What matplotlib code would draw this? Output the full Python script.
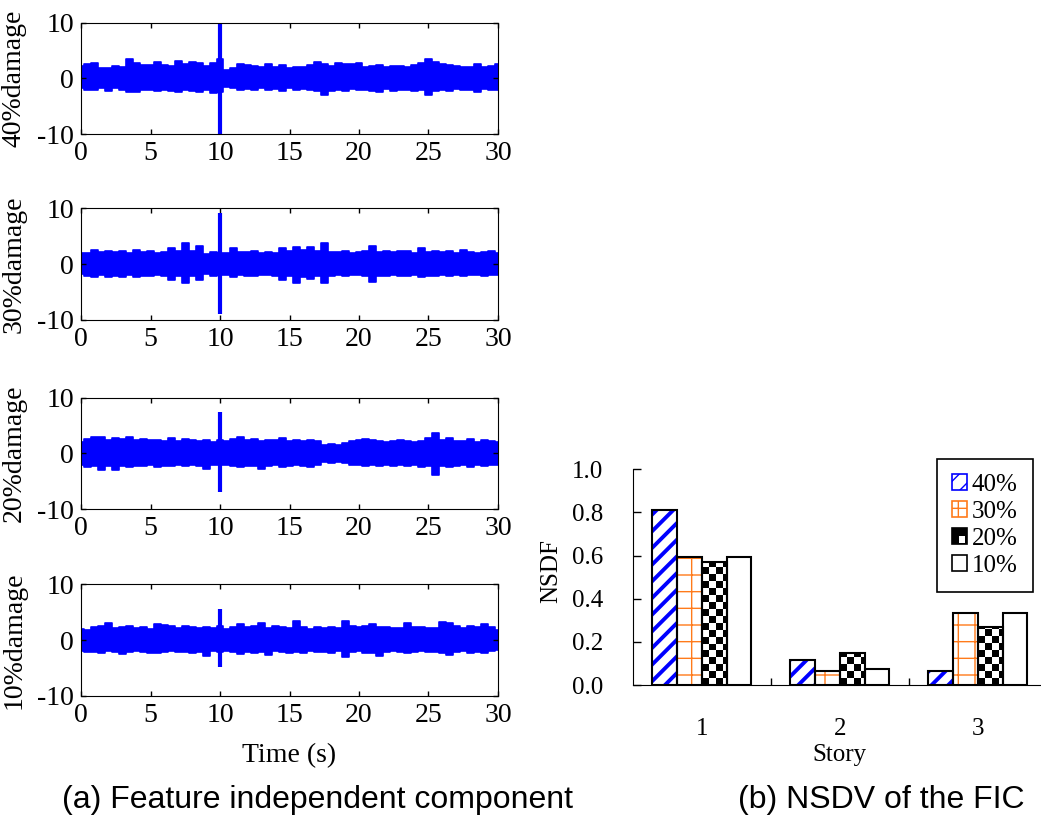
import matplotlib.pyplot as plt
import numpy as np
from matplotlib.patches import Patch, Rectangle
from matplotlib.legend_handler import HandlerPatch
from matplotlib.ticker import FormatStrFormatter

plt.rcParams['font.family'] = ['Liberation Serif', 'DejaVu Serif']
plt.rcParams['axes.unicode_minus'] = False

# envelope of the feature independent component, read every 0.5 s
time = np.arange(0, 30.01, 0.5)

upper_40 = [2.3, 2.6, 2.8, 1.8, 1.9, 2.2, 2.1, 3.4, 2.8, 2.4,
            2.5, 2.9, 2.4, 2.2, 3.1, 2.6, 3.0, 2.8, 2.3, 2.8,
            3.4, 1.6, 1.8, 2.6, 2.5, 2.2, 2.0, 2.6, 2.0, 2.4,
            1.8, 2.0, 2.0, 2.5, 3.0, 2.6, 2.2, 2.8, 2.6, 2.6,
            2.7, 2.0, 2.2, 2.4, 2.0, 2.2, 2.3, 2.1, 2.4, 2.7,
            3.4, 2.9, 2.6, 2.5, 2.2, 2.1, 2.0, 2.6, 2.0, 2.2,
            2.6]
lower_40 = [-1.8, -2.0, -2.1, -1.7, -2.2, -1.8, -2.0, -2.5, -2.4, -2.0,
            -2.1, -2.3, -2.0, -2.2, -2.4, -2.0, -2.2, -2.5, -2.0, -2.6,
            -2.4, -1.6, -1.8, -2.0, -1.9, -2.1, -1.8, -2.0, -1.9, -2.2,
            -1.8, -2.0, -1.9, -2.1, -2.2, -3.0, -2.2, -2.0, -2.3, -1.9,
            -2.1, -2.0, -2.2, -2.4, -1.9, -2.2, -2.1, -2.0, -2.2, -2.1,
            -2.9, -2.2, -2.1, -2.3, -1.9, -2.0, -2.1, -2.5, -1.9, -2.1,
            -2.0]

upper_30 = [2.0, 2.0, 2.6, 2.2, 2.4, 2.1, 2.4, 2.0, 2.5, 2.2,
            2.4, 2.0, 2.2, 2.8, 2.4, 3.8, 2.3, 3.2, 1.8, 2.2,
            2.0, 2.0, 2.8, 2.2, 2.1, 2.3, 2.0, 2.2, 2.0, 2.8,
            2.3, 3.1, 2.5, 3.0, 2.4, 3.8, 2.2, 2.1, 2.4, 2.0,
            2.2, 2.3, 3.2, 2.2, 2.4, 2.1, 2.3, 2.4, 2.0, 2.8,
            2.2, 2.4, 2.1, 2.3, 2.0, 2.6, 2.1, 2.0, 2.2, 2.4,
            2.0]
lower_30 = [-1.8, -2.2, -2.3, -2.0, -2.4, -2.1, -2.3, -2.0, -2.3, -2.1,
            -2.2, -2.0, -2.2, -2.8, -2.2, -3.4, -2.2, -2.9, -1.8, -2.1,
            -2.0, -2.0, -2.4, -2.0, -2.1, -2.2, -2.0, -1.9, -2.1, -2.8,
            -2.2, -3.4, -2.3, -2.6, -2.2, -3.4, -2.1, -2.0, -2.1, -1.9,
            -2.0, -2.1, -3.2, -2.1, -2.2, -2.0, -2.2, -2.1, -2.0, -2.3,
            -2.1, -2.2, -2.0, -2.2, -1.9, -2.2, -2.0, -1.9, -2.1, -2.0,
            -1.9]

upper_20 = [2.0, 2.6, 2.9, 2.9, 2.5, 2.7, 2.6, 2.9, 2.4, 2.6,
            2.4, 2.5, 2.3, 2.7, 2.2, 2.6, 2.4, 2.3, 2.5, 2.0,
            2.4, 2.2, 2.6, 2.9, 2.5, 2.6, 2.3, 2.5, 2.4, 2.8,
            2.3, 2.4, 2.2, 2.5, 2.2, 1.6, 1.7, 1.6, 1.8, 2.2,
            2.5, 2.6, 2.4, 2.3, 2.0, 2.2, 2.5, 2.2, 2.0, 2.3,
            2.8, 3.6, 2.4, 2.8, 2.2, 2.3, 2.6, 2.0, 2.5, 2.2,
            2.1]
lower_20 = [-2.0, -2.4, -2.2, -2.9, -2.3, -3.0, -2.2, -2.4, -2.2, -2.3,
            -2.1, -2.4, -2.2, -2.3, -2.0, -2.2, -2.1, -2.2, -2.7, -2.0,
            -2.1, -2.0, -2.2, -2.4, -2.2, -2.3, -2.8, -2.3, -2.1, -2.4,
            -2.2, -2.0, -2.3, -2.4, -2.0, -1.6, -1.7, -1.6, -1.7, -2.0,
            -2.1, -2.2, -2.0, -2.3, -2.1, -2.2, -2.0, -2.3, -2.1, -2.4,
            -2.2, -3.8, -2.3, -2.5, -2.2, -2.1, -2.4, -2.0, -2.2, -2.1,
            -2.0]

upper_10 = [2.0, 1.8, 2.4, 2.6, 3.1, 2.2, 2.4, 2.6, 2.2, 2.4,
            2.0, 2.8, 2.7, 2.5, 2.2, 2.6, 2.3, 2.1, 2.4, 2.2,
            2.5, 2.0, 2.4, 2.9, 2.3, 2.5, 3.0, 2.2, 2.6, 2.3,
            2.1, 3.5, 2.3, 2.0, 2.4, 2.2, 2.3, 2.1, 3.5, 2.5,
            2.4, 2.6, 2.9, 2.3, 2.4, 2.2, 2.1, 3.0, 2.3, 2.4,
            2.2, 2.1, 3.3, 3.0, 2.5, 2.2, 2.6, 2.3, 2.9, 2.4,
            1.8]
lower_10 = [-2.0, -2.2, -2.1, -2.3, -2.0, -2.2, -2.5, -2.1, -2.0, -2.2,
            -2.3, -2.4, -2.2, -2.0, -2.1, -2.2, -2.4, -2.2, -2.8, -2.0,
            -2.1, -2.0, -2.2, -2.5, -2.1, -2.3, -2.2, -2.6, -2.0, -2.2,
            -2.4, -2.1, -2.3, -2.0, -2.2, -2.1, -2.3, -2.0, -3.1, -2.2,
            -2.0, -2.4, -2.3, -2.8, -2.1, -2.0, -2.2, -2.3, -2.1, -2.0,
            -2.2, -2.1, -2.4, -2.6, -2.2, -2.0, -2.3, -2.1, -2.4, -2.0,
            -1.8]

damage_labels = ['40%damage', '30%damage', '20%damage', '10%damage']
spike_time = 10
spike_hi = [10.5, 9.2, 7.5, 5.6]
spike_lo = [-10.5, -9.0, -7.0, -4.8]

# NSDF bar chart
stories = [1, 2, 3]
levels = ['40%', '30%', '20%', '10%']
nsdf_40 = [0.81, 0.116, 0.065]
nsdf_30 = [0.595, 0.065, 0.334]
nsdf_20 = [0.569, 0.147, 0.270]
nsdf_10 = [0.595, 0.073, 0.334]

BLUE = '#0000ff'
ORANGE = '#ff7a1a'


class CheckerHandler(HandlerPatch):
    def create_artists(self, legend, orig_handle, xdescent, ydescent,
                       width, height, fontsize, trans):
        outer = Rectangle((-xdescent, -ydescent), width, height,
                          facecolor='black', edgecolor='black', lw=1.2,
                          transform=trans)
        inner = Rectangle((-xdescent + width / 2, -ydescent + 0.1 * height),
                          width * 0.4, height * 0.4, facecolor='white',
                          edgecolor='none', transform=trans)
        return [outer, inner]


fig = plt.figure(figsize=(10.41, 8.15), dpi=100)
W, H = 1041, 815

# ---- (a) left panels
panel_tops = [22.7, 208.3, 397.7, 584.3]
panel_h = 111.5
series = [(upper_40, lower_40), (upper_30, lower_30),
          (upper_20, lower_20), (upper_10, lower_10)]
axes_left = []
for i, (up, lo) in enumerate(series):
    bottom = 1 - (panel_tops[i] + panel_h) / H
    ax = fig.add_axes([81 / W, bottom, 417 / W, panel_h / H])
    ax.fill_between(time, lo, up, step='mid', color=BLUE, lw=1.2)
    ax.vlines(spike_time, spike_lo[i], spike_hi[i], color=BLUE, lw=3)
    ax.set_xlim(0, 30)
    ax.set_ylim(-10, 10)
    ax.set_xticks(range(0, 31, 5))
    ax.set_yticks([-10, 0, 10])
    ax.tick_params(direction='in', top=True, right=True, length=3.5,
                   width=1, labelsize=20)
    ax.tick_params(axis='y', pad=5)
    ax.tick_params(axis='x', pad=5)
    ax.set_ylabel(damage_labels[i], fontsize=20, labelpad=0)
    ax.yaxis.set_label_coords(-0.13, 0.5)
    axes_left.append(ax)

axes_left[-1].set_xlabel('Time (s)', fontsize=20, labelpad=11)

# ---- (b) bar chart
axb = fig.add_axes([632.7 / W, 1 - 685 / H, 414 / W, 215.7 / H])
x = np.array(stories, dtype=float)
bw = 0.18
offsets = [-1.5, -0.5, 0.5, 1.5]

with plt.rc_context({'hatch.linewidth': 2.8}):
    b40 = axb.bar(x + offsets[0] * bw, nsdf_40, bw, facecolor='white',
                  edgecolor=BLUE, hatch='//', lw=0, zorder=1)
with plt.rc_context({'hatch.linewidth': 1.0}):
    b30 = axb.bar(x + offsets[1] * bw, nsdf_30, bw, facecolor='white',
                  edgecolor=ORANGE, hatch='+', lw=0, zorder=1)
b20 = axb.bar(x + offsets[2] * bw, nsdf_20, bw, facecolor='white',
              lw=0, zorder=1)
b10 = axb.bar(x + offsets[3] * bw, nsdf_10, bw, facecolor='white',
              lw=0, zorder=1)

# checkerboard fill for the 20% bars
cell_w, cell_h = 0.05, 0.032
for bar in b20:
    x0, w, h = bar.get_x(), bar.get_width(), bar.get_height()
    ncol = int(np.ceil(w / cell_w))
    nrow = int(np.ceil(h / cell_h))
    checker = np.add.outer(np.arange(nrow), np.arange(ncol)) % 2
    im = axb.imshow(checker, cmap='gray', origin='lower', aspect='auto',
                    interpolation='nearest', zorder=2,
                    extent=(x0, x0 + ncol * cell_w, 0, nrow * cell_h))
    im.set_clip_path(bar)

for vals, off in zip([nsdf_40, nsdf_30, nsdf_20, nsdf_10], offsets):
    axb.bar(x + off * bw, vals, bw, fill=False, edgecolor='black',
            lw=1.5, zorder=3)

axb.set_xlim(0.5, 3.5)
axb.set_ylim(0, 1.0)
axb.set_yticks(np.arange(0, 1.01, 0.2))
axb.yaxis.set_major_formatter(FormatStrFormatter('%.1f'))
axb.set_xticks(stories)
axb.set_xticks([1.5, 2.5], minor=True)
axb.tick_params(axis='x', which='major', length=0, pad=24, labelsize=18)
axb.tick_params(axis='x', which='minor', direction='in', length=5, width=1)
axb.tick_params(axis='y', direction='in', length=6, width=1, pad=21,
                labelsize=18)
axb.spines['top'].set_visible(False)
axb.spines['right'].set_visible(False)
axb.set_xlabel('Story', fontsize=18, labelpad=3)
axb.set_ylabel('NSDF', fontsize=18)
axb.yaxis.set_label_coords(-0.171, 0.53)

with plt.rc_context({'hatch.linewidth': 2.0}):
    h40 = Patch(facecolor='white', edgecolor=BLUE, hatch='//')
with plt.rc_context({'hatch.linewidth': 1.0}):
    h30 = Patch(facecolor='white', edgecolor=ORANGE, hatch='+')
h20 = Patch(facecolor='black')
h10 = Patch(facecolor='white', edgecolor='black', lw=1.2)
leg = axb.legend([h40, h30, h20, h10], levels, loc='upper right',
                 bbox_to_anchor=(1032.7 / W, 1 - 459 / H),
                 bbox_transform=fig.transFigure, fontsize=18,
                 borderaxespad=0, fancybox=False, framealpha=1,
                 edgecolor='black', handlelength=0.6, handleheight=0.6,
                 handletextpad=0.2, labelspacing=0.2, borderpad=0.6,
                 handler_map={h20: CheckerHandler()})
leg.get_frame().set_linewidth(1.2)
for hp in leg.legend_handles[:2]:
    hp.set_linewidth(1.2)

# captions
fig.text(317 / W, 1 - 800 / H, '(a) Feature independent component',
         family='Liberation Sans', fontsize=23, ha='center', va='center')
fig.text(881 / W, 1 - 800 / H, '(b) NSDV of the FIC',
         family='Liberation Sans', fontsize=23, ha='center', va='center')

fig.savefig('out.png', dpi=100)
